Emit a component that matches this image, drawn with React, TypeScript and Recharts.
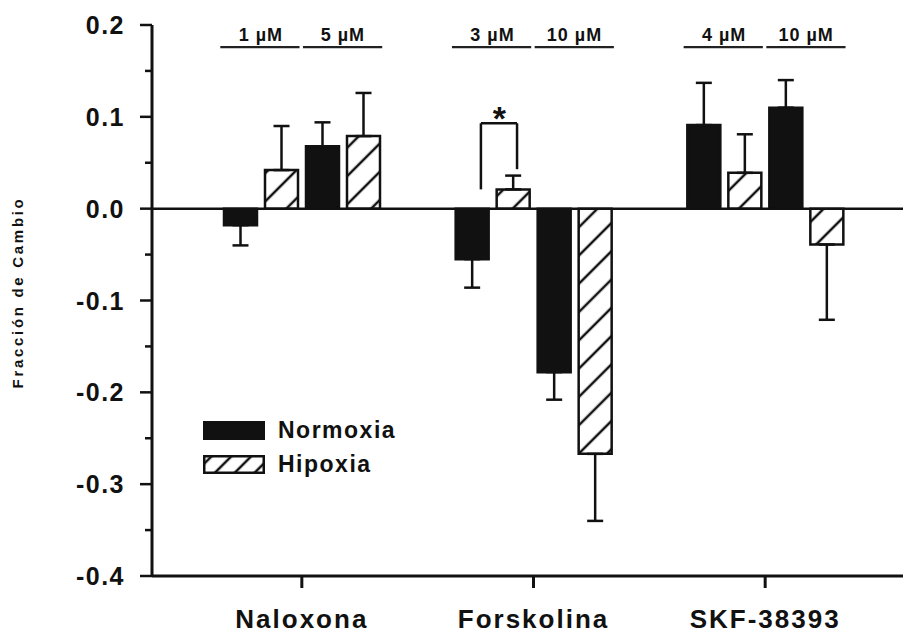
import { BarChart, Bar, XAxis, YAxis, ErrorBar, ReferenceLine, ReferenceDot, Legend, Label } from 'recharts'

const groups = ['Naloxona', 'Forskolina', 'SKF-38393']
const doseLabels = [
  ['1 µM', '5 µM'],
  ['3 µM', '10 µM'],
  ['4 µM', '10 µM'],
]
const seriesNames = ['Normoxia', 'Hipoxia']

// low dose / high dose of each drug
const normoxiaDose1 = [-0.018, -0.055, 0.091]
const normoxiaDose1Err = [0.022, 0.031, 0.046]
const hipoxiaDose1 = [0.042, 0.021, 0.039]
const hipoxiaDose1Err = [0.048, 0.015, 0.042]
const normoxiaDose2 = [0.068, -0.178, 0.11]
const normoxiaDose2Err = [0.026, 0.03, 0.03]
const hipoxiaDose2 = [0.079, -0.267, -0.039]
const hipoxiaDose2Err = [0.047, 0.073, 0.082]

const yTicks = [-0.4, -0.35, -0.3, -0.25, -0.2, -0.15, -0.1, -0.05, 0, 0.05, 0.1, 0.15, 0.2]

const FONT = '"Liberation Sans", Arial, Helvetica, sans-serif'
const INK = '#111'

// one-sided error, pointing away from zero
const errRange = (v: number, e: number) => (v >= 0 ? [0, e] : [e, 0])

const data = groups.map((g, i) => ({
  group: g,
  pos: i,
  n1: normoxiaDose1[i],
  n1Err: errRange(normoxiaDose1[i], normoxiaDose1Err[i]),
  h1: hipoxiaDose1[i],
  h1Err: errRange(hipoxiaDose1[i], hipoxiaDose1Err[i]),
  n2: normoxiaDose2[i],
  n2Err: errRange(normoxiaDose2[i], normoxiaDose2Err[i]),
  h2: hipoxiaDose2[i],
  h2Err: errRange(hipoxiaDose2[i], hipoxiaDose2Err[i]),
}))

// dose bars above each pair, in group units on the hidden "pos" axis
const doseLineSpans = [
  [-0.352, -0.01],
  [0.005, 0.347],
]
const doseLabelOffsets = [-0.177, 0.177]
const DOSE_LINE_Y = 0.176
const DOSE_LABEL_Y = 0.19

function YTick({ x, y, payload }: any) {
  const v = payload.value as number
  const major = Math.abs(v * 10 - Math.round(v * 10)) < 1e-6
  return (
    <g>
      <line x1={x - (major ? 12 : 7)} x2={x} y1={y} y2={y} stroke={INK} strokeWidth={2.5} />
      {major && (
        <text
          x={x - 27}
          y={y}
          dy="0.36em"
          textAnchor="end"
          fontFamily={FONT}
          fontWeight="bold"
          fontSize={25}
          letterSpacing={1.5}
          fill={INK}
        >
          {v.toFixed(1)}
        </text>
      )}
    </g>
  )
}

function XTick({ x, y, payload }: any) {
  return (
    <text
      x={x}
      y={y}
      dy={36}
      textAnchor="middle"
      fontFamily={FONT}
      fontWeight="bold"
      fontSize={26}
      letterSpacing={2}
      fill={INK}
    >
      {payload.value}
    </text>
  )
}

function LegendContent() {
  return (
    <div style={{ display: 'flex', flexDirection: 'column', gap: 15 }}>
      {seriesNames.map((name, i) => (
        <div key={name} style={{ display: 'flex', alignItems: 'center', height: 19 }}>
          <svg width={62} height={19}>
            <defs>
              <pattern id="hatchLegend" patternUnits="userSpaceOnUse" width={14} height={14} patternTransform="rotate(45)">
                <rect width={14} height={14} fill="#fff" />
                <line x1={7} y1={0} x2={7} y2={14} stroke={INK} strokeWidth={2.5} />
              </pattern>
            </defs>
            <rect
              x={1.25}
              y={1.25}
              width={59.5}
              height={16.5}
              fill={i === 0 ? INK : 'url(#hatchLegend)'}
              stroke={INK}
              strokeWidth={2.5}
            />
          </svg>
          <span
            style={{
              marginLeft: 13,
              fontFamily: FONT,
              fontWeight: 'bold',
              fontSize: 23,
              letterSpacing: 1.5,
              lineHeight: '19px',
              color: INK,
            }}
          >
            {name}
          </span>
        </div>
      ))}
    </div>
  )
}

function TextMark(text: string, size: number, dy = '0.36em') {
  return (p: any) => (
    <text
      x={p.cx}
      y={p.cy}
      dy={dy}
      textAnchor="middle"
      fontFamily={FONT}
      fontWeight="bold"
      fontSize={size}
      letterSpacing={1}
      fill={INK}
    >
      {text}
    </text>
  )
}

export default function App() {
  const line = { stroke: '#222', strokeWidth: 2.2 }
  return (
    <div style={{ position: 'absolute', left: 0, top: 0, background: '#fff' }}>
      <BarChart
        width={903}
        height={636}
        data={data}
        margin={{ top: 25, right: 0, bottom: 0, left: 0 }}
        barSize={33}
        barGap={8}
      >
        <defs>
          <pattern id="hatch" patternUnits="userSpaceOnUse" width={20} height={20} patternTransform="rotate(45)">
            <rect width={20} height={20} fill="#fff" />
            <line x1={10} y1={0} x2={10} y2={20} stroke={INK} strokeWidth={2.5} />
          </pattern>
        </defs>
        <XAxis
          dataKey="group"
          height={60}
          padding={{ left: 34, right: 22 }}
          axisLine={{ stroke: INK, strokeWidth: 3 }}
          tickLine={{ stroke: INK, strokeWidth: 3 }}
          tickSize={12}
          tickMargin={4}
          tick={<XTick />}
          interval={0}
        />
        <XAxis
          xAxisId="pos"
          dataKey="pos"
          type="number"
          domain={[-0.5, 2.5]}
          allowDataOverflow
          padding={{ left: 34, right: 22 }}
          hide
        />
        <YAxis
          type="number"
          domain={[-0.4, 0.2]}
          ticks={yTicks}
          interval={0}
          allowDataOverflow
          width={152}
          axisLine={{ stroke: INK, strokeWidth: 3 }}
          tickLine={false}
          tickSize={0}
          tickMargin={0}
          tick={<YTick />}
        >
          <Label
            content={({ viewBox }: any) => {
              const cx = viewBox.x + 18
              const cy = viewBox.y + viewBox.height / 2 - 8
              return (
                <text
                  x={cx}
                  y={cy}
                  transform={`rotate(-90 ${cx} ${cy})`}
                  dy="0.36em"
                  textAnchor="middle"
                  fontFamily={FONT}
                  fontWeight="bold"
                  fontSize={15}
                  letterSpacing={2.7}
                  fill={INK}
                >
                  Fracción de Cambio
                </text>
              )
            }}
          />
        </YAxis>
        <Legend
          layout="vertical"
          align="center"
          verticalAlign="middle"
          wrapperStyle={{ left: 203, top: 421, width: 260 }}
          content={<LegendContent />}
        />
        <Bar dataKey="n1" name="Normoxia" fill={INK} stroke={INK} strokeWidth={2.5} isAnimationActive={false}>
          <ErrorBar dataKey="n1Err" width={8} stroke={INK} strokeWidth={2.5} isAnimationActive={false} />
        </Bar>
        <Bar dataKey="h1" name="Hipoxia" fill="url(#hatch)" stroke={INK} strokeWidth={2.5} isAnimationActive={false}>
          <ErrorBar dataKey="h1Err" width={8} stroke={INK} strokeWidth={2.5} isAnimationActive={false} />
        </Bar>
        <Bar dataKey="n2" name="Normoxia" fill={INK} stroke={INK} strokeWidth={2.5} isAnimationActive={false}>
          <ErrorBar dataKey="n2Err" width={8} stroke={INK} strokeWidth={2.5} isAnimationActive={false} />
        </Bar>
        <Bar dataKey="h2" name="Hipoxia" fill="url(#hatch)" stroke={INK} strokeWidth={2.5} isAnimationActive={false}>
          <ErrorBar dataKey="h2Err" width={8} stroke={INK} strokeWidth={2.5} isAnimationActive={false} />
        </Bar>
        <ReferenceLine y={0} stroke={INK} strokeWidth={2.5} />
        {groups.map((g, i) =>
          doseLineSpans.map(([a, b], j) => (
            <ReferenceLine
              key={`dl-${g}-${j}`}
              xAxisId="pos"
              segment={[
                { x: i + a, y: DOSE_LINE_Y },
                { x: i + b, y: DOSE_LINE_Y },
              ]}
              {...line}
            />
          ))
        )}
        {groups.map((g, i) =>
          doseLabelOffsets.map((o, j) => (
            <ReferenceDot
              key={`lab-${g}-${j}`}
              xAxisId="pos"
              x={i + o}
              y={DOSE_LABEL_Y}
              shape={TextMark(doseLabels[i][j], 18)}
            />
          ))
        )}
        {/* significance bracket, Forskolina 3 µM */}
        <ReferenceLine xAxisId="pos" segment={[{ x: 1 - 0.227, y: 0.021 }, { x: 1 - 0.227, y: 0.093 }]} stroke={INK} strokeWidth={2.5} />
        <ReferenceLine xAxisId="pos" segment={[{ x: 1 - 0.227, y: 0.093 }, { x: 1 - 0.071, y: 0.093 }]} stroke={INK} strokeWidth={2.5} />
        <ReferenceLine xAxisId="pos" segment={[{ x: 1 - 0.071, y: 0.093 }, { x: 1 - 0.071, y: 0.043 }]} stroke={INK} strokeWidth={2.5} />
        <ReferenceDot xAxisId="pos" x={1 - 0.145} y={0.105} shape={TextMark('*', 34, '0.52em')} />
      </BarChart>
    </div>
  )
}
